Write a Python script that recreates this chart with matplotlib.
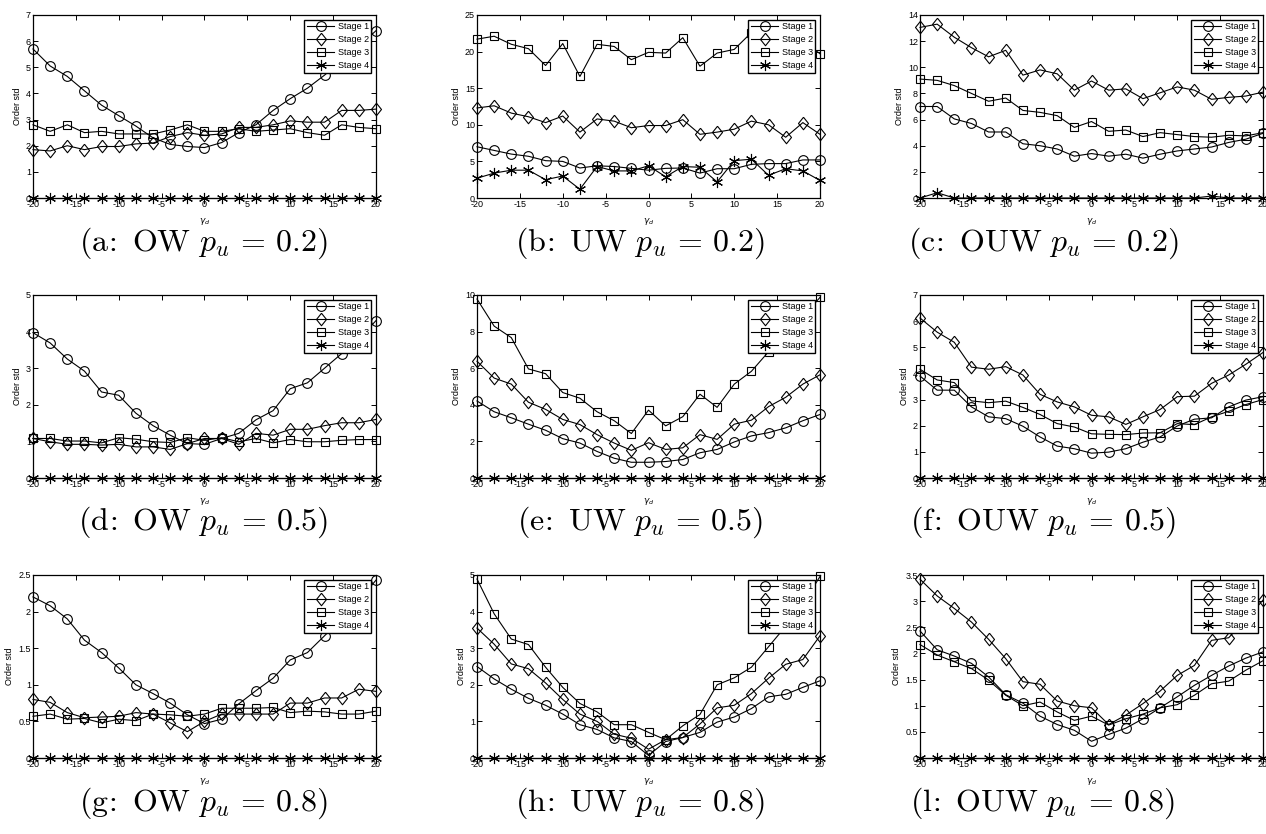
import matplotlib
matplotlib.use("Agg")
import matplotlib.pyplot as plt
from matplotlib.ticker import FuncFormatter

plt.rcParams['font.family'] = ['Liberation Sans', 'DejaVu Sans']
plt.rcParams['mathtext.fontset'] = 'cm'

gamma = [-20, -18, -16, -14, -12, -10, -8, -6, -4, -2, 0, 2, 4, 6, 8, 10, 12, 14, 16, 18, 20]
xticks = [-20, -15, -10, -5, 0, 5, 10, 15, 20]
stage_labels = ["Stage 1", "Stage 2", "Stage 3", "Stage 4"]
zeros = [0] * 21

# (a) OW p_u = 0.2
a_s1 = [5.7, 5.05, 4.65, 4.1, 3.55, 3.15, 2.75, 2.3, 2.05, 1.97, 1.93, 2.12, 2.5, 2.8, 3.35, 3.8, 4.2, 4.7, 5.25, 5.8, 6.4]
a_s2 = [1.85, 1.8, 2.0, 1.85, 1.97, 1.97, 2.07, 2.1, 2.35, 2.5, 2.4, 2.45, 2.7, 2.7, 2.8, 2.95, 2.9, 2.9, 3.35, 3.35, 3.4]
a_s3 = [2.8, 2.55, 2.8, 2.5, 2.55, 2.45, 2.45, 2.45, 2.6, 2.8, 2.55, 2.55, 2.65, 2.55, 2.6, 2.65, 2.5, 2.4, 2.8, 2.7, 2.65]
a_s4 = zeros
a_yticks = [0, 1, 2, 3, 4, 5, 6, 7]

# (b) UW p_u = 0.2
b_s1 = [7.0, 6.5, 6.0, 5.7, 5.1, 5.0, 4.1, 4.4, 4.3, 4.05, 3.8, 4.05, 4.1, 3.4, 4.0, 4.0, 4.6, 4.7, 4.7, 5.2, 5.2]
b_s2 = [12.3, 12.6, 11.6, 11.1, 10.3, 11.2, 9.0, 10.8, 10.5, 9.6, 9.9, 9.9, 10.7, 8.7, 9.0, 9.4, 10.5, 10.0, 8.3, 10.3, 8.7]
b_s3 = [21.7, 22.1, 21.0, 20.4, 18.1, 21.1, 16.6, 21.0, 20.7, 18.9, 19.9, 19.8, 21.9, 18.0, 19.8, 20.3, 22.6, 23.0, 22.2, 21.5, 19.7]
b_s4 = [2.7, 3.4, 3.8, 3.8, 2.5, 3.0, 1.2, 4.3, 3.7, 3.7, 4.4, 2.9, 4.3, 4.2, 2.2, 5.1, 5.3, 3.1, 4.0, 3.7, 2.4]
b_yticks = [0, 5, 10, 15, 20, 25]

# (c) OUW p_u = 0.2
c_s1 = [7.0, 7.0, 6.05, 5.7, 5.05, 5.05, 4.15, 4.0, 3.75, 3.2, 3.4, 3.2, 3.35, 3.05, 3.35, 3.6, 3.75, 3.9, 4.25, 4.5, 4.95]
c_s2 = [13.05, 13.3, 12.3, 11.5, 10.8, 11.3, 9.4, 9.8, 9.5, 8.25, 8.95, 8.25, 8.35, 7.6, 8.05, 8.5, 8.25, 7.55, 7.7, 7.8, 8.1]
c_s3 = [9.1, 9.0, 8.6, 8.0, 7.4, 7.65, 6.7, 6.55, 6.3, 5.4, 5.85, 5.1, 5.2, 4.7, 5.0, 4.85, 4.7, 4.65, 4.8, 4.75, 5.0]
c_s4 = [0, 0.4, 0, 0, 0, 0, 0, 0, 0, 0, 0, 0, 0, 0, 0, 0, 0, 0.15, 0, 0, 0]
c_yticks = [0, 2, 4, 6, 8, 10, 12, 14]

# (d) OW p_u = 0.5
d_s1 = [3.97, 3.69, 3.25, 2.92, 2.35, 2.26, 1.77, 1.43, 1.17, 0.94, 0.92, 1.08, 1.22, 1.59, 1.84, 2.44, 2.6, 3.0, 3.4, 3.8, 4.3]
d_s2 = [1.08, 0.99, 0.92, 0.92, 0.9, 0.92, 0.85, 0.85, 0.78, 0.94, 1.08, 1.08, 0.92, 1.22, 1.17, 1.33, 1.33, 1.43, 1.51, 1.51, 1.6]
d_s3 = [1.08, 1.08, 1.01, 1.01, 0.96, 1.1, 1.06, 0.99, 0.97, 1.1, 1.03, 1.1, 0.99, 1.08, 0.96, 1.05, 0.99, 0.99, 1.03, 1.05, 1.05]
d_s4 = zeros
d_yticks = [0, 1, 2, 3, 4, 5]

# (e) UW p_u = 0.5
e_s1 = [4.21, 3.62, 3.29, 2.94, 2.61, 2.15, 1.91, 1.45, 1.08, 0.86, 0.86, 0.9, 1.01, 1.38, 1.56, 1.97, 2.3, 2.48, 2.74, 3.13, 3.47]
e_s2 = [6.38, 5.46, 5.13, 4.14, 3.75, 3.2, 2.92, 2.37, 1.91, 1.51, 1.93, 1.56, 1.65, 2.37, 2.11, 2.94, 3.16, 3.9, 4.41, 5.13, 5.64]
e_s3 = [9.78, 8.3, 7.67, 5.96, 5.7, 4.67, 4.36, 3.62, 3.13, 2.43, 3.71, 2.85, 3.35, 4.58, 3.86, 5.13, 5.83, 6.9, 7.8, 8.8, 9.87]
e_s4 = zeros
e_yticks = [0, 2, 4, 6, 8, 10]

# (f) OUW p_u = 0.5
f_s1 = [3.9, 3.36, 3.36, 2.72, 2.34, 2.27, 1.98, 1.57, 1.22, 1.12, 0.95, 0.99, 1.12, 1.37, 1.57, 1.99, 2.25, 2.3, 2.72, 2.98, 3.11]
f_s2 = [6.12, 5.58, 5.19, 4.24, 4.16, 4.26, 3.94, 3.2, 2.91, 2.72, 2.4, 2.34, 2.05, 2.34, 2.62, 3.11, 3.13, 3.62, 3.94, 4.35, 4.8]
f_s3 = [4.16, 3.75, 3.65, 2.95, 2.88, 2.94, 2.7, 2.43, 2.08, 1.95, 1.69, 1.67, 1.66, 1.72, 1.73, 2.08, 2.04, 2.34, 2.55, 2.81, 3.0]
f_s4 = zeros
f_yticks = [0, 1, 2, 3, 4, 5, 6, 7]

# (g) OW p_u = 0.8
g_s1 = [2.2, 2.08, 1.9, 1.61, 1.44, 1.23, 1.0, 0.88, 0.75, 0.59, 0.47, 0.53, 0.74, 0.92, 1.09, 1.34, 1.44, 1.67, 1.9, 2.15, 2.43]
g_s2 = [0.8, 0.76, 0.62, 0.55, 0.56, 0.57, 0.62, 0.6, 0.48, 0.36, 0.5, 0.6, 0.6, 0.6, 0.6, 0.75, 0.75, 0.82, 0.82, 0.94, 0.91]
g_s3 = [0.57, 0.6, 0.53, 0.54, 0.48, 0.53, 0.51, 0.6, 0.59, 0.57, 0.6, 0.68, 0.68, 0.68, 0.69, 0.62, 0.64, 0.63, 0.6, 0.6, 0.64]
g_s4 = zeros
g_yticks = [0, 0.5, 1, 1.5, 2, 2.5]

# (h) UW p_u = 0.8
h_s1 = [2.5, 2.16, 1.88, 1.63, 1.44, 1.2, 0.91, 0.78, 0.55, 0.45, 0.07, 0.45, 0.56, 0.7, 0.98, 1.12, 1.35, 1.67, 1.74, 1.93, 2.11]
h_s2 = [3.55, 3.11, 2.57, 2.44, 2.05, 1.6, 1.2, 1.0, 0.65, 0.54, 0.24, 0.5, 0.56, 0.93, 1.37, 1.44, 1.76, 2.18, 2.56, 2.69, 3.34]
h_s3 = [4.89, 3.94, 3.25, 3.1, 2.48, 1.93, 1.49, 1.26, 0.91, 0.91, 0.7, 0.5, 0.88, 1.19, 2.0, 2.19, 2.48, 3.04, 3.6, 4.2, 4.96]
h_s4 = zeros
h_yticks = [0, 1, 2, 3, 4, 5]

# (l) OUW p_u = 0.8
l_s1 = [2.43, 2.07, 1.95, 1.81, 1.55, 1.21, 1.05, 0.8, 0.64, 0.53, 0.32, 0.45, 0.57, 0.75, 0.96, 1.17, 1.39, 1.58, 1.76, 1.91, 2.03]
l_s2 = [3.42, 3.1, 2.86, 2.6, 2.27, 1.9, 1.46, 1.41, 1.09, 1.0, 0.96, 0.64, 0.82, 1.04, 1.28, 1.58, 1.77, 2.25, 2.3, 2.65, 3.02]
l_s3 = [2.17, 1.97, 1.84, 1.71, 1.49, 1.2, 1.0, 1.07, 0.88, 0.72, 0.8, 0.63, 0.75, 0.84, 0.96, 1.02, 1.2, 1.42, 1.47, 1.68, 1.86]
l_s4 = zeros
l_yticks = [0, 0.5, 1, 1.5, 2, 2.5, 3, 3.5]

captions = [
    r"$\mathrm{(a\!:\ OW\ }p_u\, =\, 0.2\mathrm{)}$",
    r"$\mathrm{(b\!:\ UW\ }p_u\, =\, 0.2\mathrm{)}$",
    r"$\mathrm{(c\!:\ OUW\ }p_u\, =\, 0.2\mathrm{)}$",
    r"$\mathrm{(d\!:\ OW\ }p_u\, =\, 0.5\mathrm{)}$",
    r"$\mathrm{(e\!:\ UW\ }p_u\, =\, 0.5\mathrm{)}$",
    r"$\mathrm{(f\!:\ OUW\ }p_u\, =\, 0.5\mathrm{)}$",
    r"$\mathrm{(g\!:\ OW\ }p_u\, =\, 0.8\mathrm{)}$",
    r"$\mathrm{(h\!:\ UW\ }p_u\, =\, 0.8\mathrm{)}$",
    r"$\mathrm{(l\!:\ OUW\ }p_u\, =\, 0.8\mathrm{)}$",
]

panels = [
    (a_s1, a_s2, a_s3, a_s4, a_yticks),
    (b_s1, b_s2, b_s3, b_s4, b_yticks),
    (c_s1, c_s2, c_s3, c_s4, c_yticks),
    (d_s1, d_s2, d_s3, d_s4, d_yticks),
    (e_s1, e_s2, e_s3, e_s4, e_yticks),
    (f_s1, f_s2, f_s3, f_s4, f_yticks),
    (g_s1, g_s2, g_s3, g_s4, g_yticks),
    (h_s1, h_s2, h_s3, h_s4, h_yticks),
    (l_s1, l_s2, l_s3, l_s4, l_yticks),
]

W, H = 1266, 834
fig = plt.figure(figsize=(W / 100, H / 100), dpi=100)

col_left = [33, 477, 920]
col_w = 343
row_top = [15, 295, 575]
row_h = 183
cap_x = [203, 640, 1043]
cap_y = [243, 522, 803]

diamond = [(0, 1), (0.8, 0), (0, -1), (-0.8, 0), (0, 1)]
markers = ['o', diamond, 's', (6, 2, 0)]
msizes = [7, 9, 6, 8]

fmt = FuncFormatter(lambda v, p: "%g" % v)

for i, (s1, s2, s3, s4, yt) in enumerate(panels):
    r, c = divmod(i, 3)
    left = col_left[c] / W
    bottom = 1 - (row_top[r] + row_h) / H
    ax = fig.add_axes([left, bottom, col_w / W, row_h / H])
    for series, mk, ms, lab in zip((s1, s2, s3, s4), markers, msizes, stage_labels):
        ax.plot(gamma, series, color='black', lw=0.8, marker=mk, ms=ms,
                mfc='none', mec='black', mew=0.8, label=lab, clip_on=False, zorder=3)
    ax.set_xlim(-20, 20)
    ax.set_ylim(yt[0], yt[-1])
    ax.set_xticks(xticks)
    ax.set_yticks(yt)
    ax.xaxis.set_major_formatter(fmt)
    ax.yaxis.set_major_formatter(fmt)
    ax.tick_params(direction='in', top=True, right=True, labelsize=6.5,
                   length=3.5, width=0.7, pad=1.5)
    for sp in ax.spines.values():
        sp.set_linewidth(0.9)
    ax.set_ylabel("Order std", fontsize=6.5, labelpad=3)
    ax.set_xlabel(r"$\gamma_d$", fontsize=6.5, labelpad=5, math_fontfamily='dejavusans')
    leg = ax.legend(loc='upper right', fontsize=6.5, frameon=True, fancybox=False,
                    edgecolor='black', framealpha=1, borderpad=0.3, labelspacing=0.45,
                    handlelength=3.0, handletextpad=0.4, borderaxespad=0.5)
    leg.get_frame().set_linewidth(1.0)
    leg.set_zorder(5)
    fig.text(cap_x[c] / W, 1 - cap_y[r] / H, captions[i], ha='center', va='center',
             fontsize=23)

fig.savefig("out.png", dpi=100)
